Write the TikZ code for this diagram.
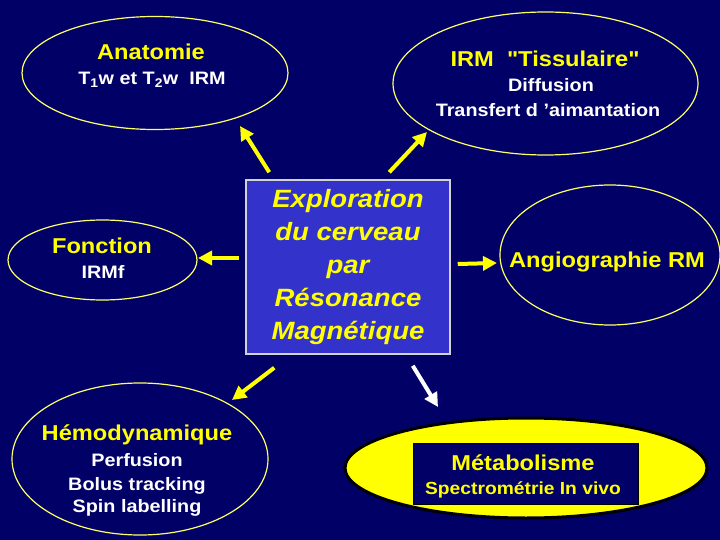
\documentclass[tikz,border=0pt]{standalone}
\usepackage{fontspec}
\setmainfont{Liberation Sans}[FakeStretch=1.1]
\newfontfamily\quotefont{Liberation Sans}[FakeStretch=1.1]
\usetikzlibrary{arrows.meta,shapes.geometric}
\definecolor{bgnavy}{RGB}{0,0,102}
\definecolor{boxblue}{RGB}{51,51,204}
\definecolor{lineyellow}{RGB}{255,255,102}
\definecolor{textyellow}{RGB}{255,255,0}
\tikzstyle{zone}=[ellipse,draw=lineyellow,line width=1.2pt,fill=bgnavy,inner sep=0pt,outer sep=0pt]
\tikzstyle{heading}=[anchor=base,inner sep=0pt,text=textyellow,font=\fontsize{21.5}{24}\selectfont\bfseries]
\tikzstyle{sub}=[anchor=base,inner sep=0pt,text=white,font=\fontsize{18}{22}\selectfont\bfseries]
\tikzstyle{link}=[draw,line width=4pt,textyellow,-{Triangle[length=14pt,width=14pt]}]

\begin{document}
\begin{tikzpicture}[x=1pt,y=-1pt]

    \fill[bgnavy] (0,0) rectangle (720,540);
    \useasboundingbox (0,0) rectangle (720,540);

    % zones
    \node[zone, minimum width=266pt, minimum height=113pt] (anat) at (155,73) {};
    \node[zone, minimum width=305pt, minimum height=143pt] (tiss) at (545.5,83.5) {};
    \node[zone, minimum width=189pt, minimum height=80pt] (fonc) at (102.5,260) {};
    \node[zone, minimum width=220pt, minimum height=140pt] (angio) at (610,255) {};
    \node[zone, minimum width=256pt, minimum height=152pt] (hemo) at (140,459) {};
    \node[zone, fill=textyellow, draw=black, line width=3pt,
          minimum width=362pt, minimum height=100pt] (meta) at (526,468) {};
    \node[draw=black, line width=1pt, fill=bgnavy, inner sep=0pt,
          minimum width=225pt, minimum height=61pt] (metabox) at (525.5,473.5) {};

    % centre
    \node[draw=gray!35, line width=1.5pt, fill=boxblue, inner sep=0pt,
          minimum width=204pt, minimum height=174pt, align=center,
          text=textyellow, font=\fontsize{25}{33}\selectfont\bfseries\itshape]
          (box) at (348,267) {Exploration\\du cerveau\\par\\Résonance\\Magnétique};

    % texts
    \node[heading] (anatT) at (151,60) {Anatomie};
    \node[sub] (anatS) at (152,85) {T\textsubscript{1}w et T\textsubscript{2}w\ \ IRM};

    \node[heading] (tissT) at (545,67) {IRM\ \ {\quotefont"Tissulaire"}};
    \node[sub] (tissS1) at (551,92) {Diffusion};
    \node[sub] (tissS2) at (548,117) {Transfert d ’aimantation};

    \node[heading] (foncT) at (102,253) {Fonction};
    \node[sub] (foncS) at (103,278) {IRMf};

    \node[heading] (angioT) at (607,267) {Angiographie RM};

    \node[heading] (hemoT) at (137,440) {Hémodynamique};
    \foreach \y/\t in {466/Perfusion, 490/Bolus tracking, 512/Spin labelling}
        \node[sub] (hemo\y) at (137,\y) {\t};

    \node[heading] (metaT) at (523,470) {Métabolisme};
    \node[sub, font=\fontsize{17.5}{22}\selectfont\bfseries, text=textyellow] (metaS) at (523,494) {Spectrométrie In vivo};

    % arrows
    \path[link] ([xshift=24pt,yshift=7pt]box.north west) -- ([xshift=85pt,yshift=3.5pt]anat.south);
    \path[link] ([xshift=144pt,yshift=7pt]box.north west) -- ([xshift=-118.5pt,yshift=23pt]tiss.south);
    \path[link] ([xshift=-6pt,yshift=9pt]box.west) -- ([xshift=1pt,yshift=2pt]fonc.east);
    \path[link] ([xshift=7pt,yshift=3pt]box.east) -- ([xshift=-3pt,yshift=-8pt]angio.west);
    \path[link] ([xshift=29pt,yshift=-13pt]box.south west) -- ([xshift=92pt,yshift=-17pt]hemo.north);
    \path[link, white] ([xshift=-38pt,yshift=-11pt]box.south east) -- ([xshift=-88pt,yshift=11pt]meta.north);

\end{tikzpicture}
\end{document}
